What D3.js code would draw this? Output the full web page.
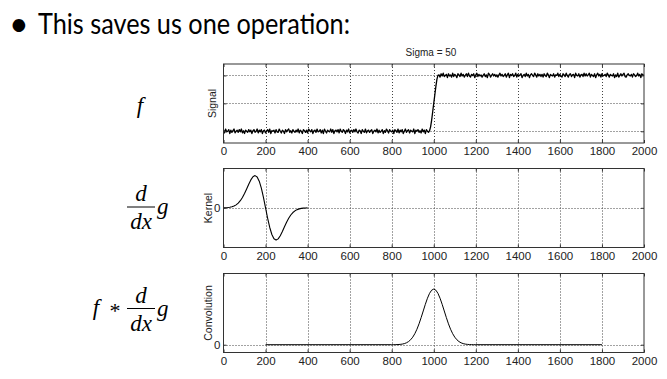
<!DOCTYPE html>
<html><head><meta charset="utf-8">
<script src="https://cdn.jsdelivr.net/npm/d3@7"></script>
<style>body{margin:0;background:#fff}svg{display:block}</style>
</head><body><svg id="c" width="667" height="379"></svg>
<script>
// ---------- data ----------
const titleText = "This saves us one operation:";
const plotTitle = "Sigma = 50";
const xTicks = [0,200,400,600,800,1000,1200,1400,1600,1800,2000];
const xDomain = [0,2000];

// Signal sampled every 5 units from 0 to 2000
const signalStep = 5;
const signalValues = [
 .02,-.03,.04,-.01,.00,.03,-.04,.02,-.02,.01,.04,-.03,.00,.02,
 -.02,.03,-.01,.04,-.03,.01,-.04,.02,.00,-.02,.03,-.01,.02,-.04,
 .01,.03,-.02,.00,.04,-.03,.02,-.01,.03,-.04,.01,.02,-.03,.00,
 .03,-.02,.04,-.04,.01,.00,.02,-.03,.03,-.01,-.02,.04,.00,-.03,
 .02,.00,-.04,.03,-.01,.02,.04,-.02,.01,-.03,.03,.00,-.02,.02,
 -.01,.04,-.03,.02,.00,-.04,.03,.01,-.02,.02,-.03,.04,.01,-.01,
 .03,-.04,.01,.02,-.02,.04,-.01,.00,.03,-.03,.02,-.04,.04,.00,
 -.03,.02,.00,-.01,.04,-.02,.03,-.04,.01,.02,-.01,.03,-.03,.04,
 .00,-.02,.03,.01,-.04,.02,-.01,.04,-.03,.00,.02,-.02,.03,-.01,
 .04,-.01,-.03,.02,.01,-.04,.03,.00,-.02,.04,-.03,.01,.02,-.02,
 .01,.03,-.04,.00,.02,-.01,.04,-.03,.02,-.02,.00,.03,-.04,.01,
 -.02,.04,.01,-.03,.03,.00,-.01,.02,-.04,.03,.01,-.02,.04,-.03,
 .02,-.01,.03,-.04,.00,.04,-.02,.01,.03,-.03,.02,.00,-.01,.04,
 -.04,.02,.00,.03,-.02,.01,-.03,.04,-.01,.02,-.04,.03,.00,-.02,
 .01,.08,.20,.35,.50,.65,.80,.93,1.00,
 1.01,.97,1.03,.99,1.04,.98,1.00,1.02,.96,1.03,.99,1.01,.97,1.04,
 .98,1.02,1.00,.96,1.03,1.01,.98,1.04,.99,1.02,.97,1.00,1.03,.98,
 1.04,.99,.97,1.02,1.00,1.03,.96,1.01,1.04,.98,1.02,.99,1.01,.97,
 1.00,1.03,.98,1.01,.96,1.04,1.02,.97,1.00,1.03,.99,1.02,.98,1.01,
 .97,1.01,1.04,.99,1.02,.98,1.00,1.03,.97,1.01,1.04,.96,1.02,1.00,
 1.03,.98,1.00,1.04,.97,1.02,.99,1.01,1.03,.96,1.00,1.02,.98,1.04,
 .99,1.02,.96,1.01,1.03,1.00,.98,1.04,1.01,.97,1.03,.99,1.02,.98,
 1.02,.97,1.03,1.00,.98,1.04,1.01,.96,1.02,1.00,.99,1.03,.97,1.01,
 1.00,1.04,.98,1.02,.99,.97,1.03,1.01,.98,1.04,1.00,.97,1.02,1.03,
 .98,1.01,1.02,.96,1.04,1.00,.99,1.03,.97,1.01,1.02,.98,1.04,.99,
 1.03,.99,1.01,1.04,.97,1.02,1.00,.98,1.03,.96,1.01,1.04,.99,1.02,
 .97,1.03,.99,1.00,1.02,.98,1.04,1.01,.97,1.02,1.00,.99,1.03,.96,
 1.01,.98,1.04,.97,1.00,1.03,.99,1.02,1.04,.98,.97,1.01,1.03,1.00,
 .99,1.02,.97,1.03,1.01,.98,1.00,1.04,.99,1.02,.96,1.03,1.00,1.01
];
const signalYTicks = [0,0.5,1];

// Kernel (derivative of Gaussian) sampled every 10 units from 0 to 400
const kernelStep = 10;
const kernelValues = [
 0.002,0.005,0.009,0.017,0.032,0.055,0.092,0.146,0.222,0.323,
 0.446,0.587,0.733,0.866,0.963,1.000,0.958,0.826,0.609,0.323,
 0,
 -0.323,-0.609,-0.826,-0.958,-1.000,-0.963,-0.866,-0.733,-0.587,
 -0.446,-0.323,-0.222,-0.146,-0.092,-0.055,-0.032,-0.017,-0.009,-0.005,-0.002
];
const kernelYTicks = [0];

// Convolution result
const convX = [200,800,810,820,830,840,850,860,870,880,890,900,910,920,930,940,950,960,970,980,990,
 1000,1010,1020,1030,1040,1050,1060,1070,1080,1090,1100,1110,1120,1130,1140,1150,1160,1170,1180,1190,1200,1800];
const convValues = [0,0.0003,0.0007,0.0015,0.0031,0.006,0.0111,0.0198,0.034,0.0561,0.0889,0.1353,0.1979,0.278,0.3753,0.4868,0.6065,0.7261,0.8353,0.9231,0.9802,
 1,0.9802,0.9231,0.8353,0.7261,0.6065,0.4868,0.3753,0.278,0.1979,0.1353,0.0889,0.0561,0.034,0.0198,0.0111,0.006,0.0031,0.0015,0.0007,0.0003,0];
const convYTicks = [0];

// ---------- drawing ----------
const svg = d3.select("#c");
svg.append("rect").attr("width",667).attr("height",379).attr("fill","#fff");

const x = d3.scaleLinear().domain(xDomain).range([223.5, 644]);
const axisColor = "#333";
const gridColor = "#444";
const tickFont = "'Liberation Sans', Arial, sans-serif";

// title
const tg = svg.append("g");
tg.append("text").attr("x",9).attr("y",36).attr("font-family","Lato, sans-serif")
  .attr("font-size",34).attr("fill","#000").text("\u2022");
tg.append("text").attr("x",38).attr("y",33.5).attr("font-family","Lato, sans-serif")
  .attr("font-size",29).attr("fill","#000")
  .attr("textLength",312).attr("lengthAdjust","spacingAndGlyphs").text(titleText);

svg.append("text").attr("x",431).attr("y",55.5).attr("text-anchor","middle")
  .attr("font-family",tickFont).attr("font-size",10).attr("fill","#222").text(plotTitle);

const panels = [
  {top:64, domain:[-0.21,1.205], ticks:signalYTicks, tickLabels:false, label:"Signal", labelX:215.5,
   xs: signalValues.map((v,i)=>i*signalStep), ys: signalValues, lw:1.3},
  {top:168.5, domain:[-1.23,1.22], ticks:kernelYTicks, tickLabels:true, label:"Kernel", labelX:211.5,
   xs: kernelValues.map((v,i)=>i*kernelStep), ys: kernelValues, lw:1.1},
  {top:273.5, domain:[-0.14,1.28], ticks:convYTicks, tickLabels:true, label:"Convolution", labelX:211.5,
   xs: convX, ys: convValues, lw:1}
];
const H = 79;

panels.forEach(p => {
  const y = d3.scaleLinear().domain(p.domain).range([p.top+H, p.top]);
  const g = svg.append("g");
  // grid
  g.selectAll(".vg").data(xTicks.slice(1,-1)).enter().append("line")
    .attr("x1",d=>Math.round(x(d))+0.5).attr("x2",d=>Math.round(x(d))+0.5)
    .attr("y1",p.top).attr("y2",p.top+H)
    .attr("stroke",gridColor).attr("stroke-width",1).attr("stroke-dasharray","1,2");
  g.selectAll(".hg").data(p.ticks).enter().append("line")
    .attr("x1",x(xDomain[0])).attr("x2",x(xDomain[1]))
    .attr("y1",d=>Math.round(y(d))+0.5).attr("y2",d=>Math.round(y(d))+0.5)
    .attr("stroke",gridColor).attr("stroke-width",1).attr("stroke-dasharray","1,2");
  // data line
  const line = d3.line().x(d=>x(d[0])).y(d=>y(d[1]));
  g.append("path").datum(p.xs.map((xx,i)=>[xx,p.ys[i]]))
    .attr("d",line).attr("fill","none").attr("stroke","#000").attr("stroke-width",p.lw)
    .attr("stroke-linejoin","round");
  // axes (ticks inward)
  const styleAxis = sel => {
    sel.select(".domain").remove();
    sel.selectAll(".tick line").attr("stroke",axisColor);
    sel.selectAll(".tick text").attr("font-family",tickFont).attr("font-size",11.5).attr("fill","#222");
  };
  g.append("g").attr("transform",`translate(0,${p.top+H})`)
    .call(d3.axisBottom(x).tickValues(xTicks).tickSizeInner(-3).tickSizeOuter(0).tickPadding(4).tickFormat(d3.format("d")))
    .call(styleAxis);
  g.append("g").attr("transform",`translate(0,${p.top})`)
    .call(d3.axisTop(x).tickValues(xTicks).tickSizeInner(-3).tickSizeOuter(0).tickFormat(""))
    .call(styleAxis);
  g.append("g").attr("transform",`translate(${x(xDomain[0])},0)`)
    .call(d3.axisLeft(y).tickValues(p.ticks).tickSizeInner(-3).tickSizeOuter(0).tickPadding(3)
      .tickFormat(p.tickLabels ? d3.format("d") : ""))
    .call(styleAxis);
  g.append("g").attr("transform",`translate(${x(xDomain[1])},0)`)
    .call(d3.axisRight(y).tickValues(p.ticks).tickSizeInner(-3).tickSizeOuter(0).tickFormat(""))
    .call(styleAxis);
  // box
  g.append("rect").attr("x",x(xDomain[0])).attr("y",p.top).attr("width",x(xDomain[1])-x(xDomain[0])).attr("height",H)
    .attr("fill","none").attr("stroke",axisColor).attr("stroke-width",1);
  // y label
  g.append("text").attr("transform",`translate(${p.labelX},${p.top+H/2}) rotate(-90)`)
    .attr("text-anchor","middle").attr("font-family",tickFont).attr("font-size",10.5).attr("fill","#222")
    .text(p.label);
});

// math labels
const mf = "'Liberation Serif', 'Times New Roman', serif";
const mfs = 23;
function mtext(xx,yy,t,anchor){
  svg.append("text").attr("x",xx).attr("y",yy).attr("font-family",mf).attr("font-style","italic")
    .attr("font-size",mfs).attr("text-anchor",anchor||"start").attr("fill","#000").text(t);
}
mtext(140,113,"f","middle");
function frac(cx, lineY){
  mtext(cx,lineY-6,"d","middle");
  svg.append("line").attr("x1",cx-14).attr("x2",cx+14).attr("y1",lineY).attr("y2",lineY)
    .attr("stroke","#000").attr("stroke-width",1);
  mtext(cx,lineY+22,"dx","middle");
}
frac(141,207);
mtext(157,214,"g");
mtext(96,315,"f","middle");
svg.append("text").attr("x",115).attr("y",318).attr("font-family",mf).attr("font-size",22)
  .attr("text-anchor","middle").text("*");
frac(141,308.5);
mtext(157,315.5,"g");
</script></body></html>
